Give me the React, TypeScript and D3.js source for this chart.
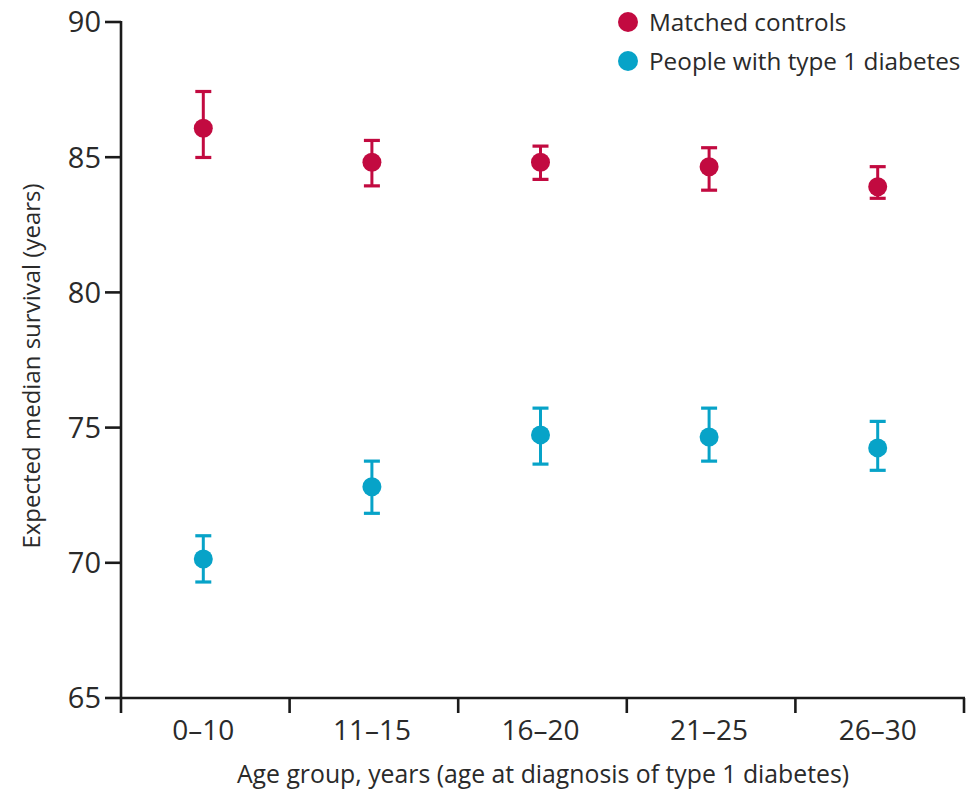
import React from "react";
import * as d3 from "d3";

const categories = ["0–10", "11–15", "16–20", "21–25", "26–30"];
const controlsMedian = [86.07, 84.81, 84.81, 84.65, 83.91];
const controlsLow = [84.99, 83.94, 84.18, 83.78, 83.48];
const controlsHigh = [87.43, 85.62, 85.41, 85.35, 84.65];
const diabetesMedian = [70.14, 72.81, 74.73, 74.65, 74.25];
const diabetesLow = [69.29, 71.83, 73.65, 73.76, 73.42];
const diabetesHigh = [71.0, 73.76, 75.72, 75.72, 75.23];
const yTicks = [65, 70, 75, 80, 85, 90];
const seriesNames = ["Matched controls", "People with type 1 diabetes"];

const RED = "#c20a40";
const BLUE = "#07a3c8";
const AXIS = "#1a1a1a";
const FONT = "'Open Sans', Lato, sans-serif";
const TXT = "#2a2a2a";

export default function App() {
  const W = 967;
  const H = 792;
  const x0 = 121;
  const x1 = 964;
  const yTop = 22;
  const yBot = 698;

  const x = d3.scaleBand<string>().domain(categories).range([x0, x1]).paddingInner(0).paddingOuter(0);
  const y = d3.scaleLinear().domain([65, 90]).range([yBot, yTop]);
  const cx = (c: string) => (x(c) as number) + x.bandwidth() / 2 - 2;

  const series = [
    { name: seriesNames[0], color: RED, mid: controlsMedian, lo: controlsLow, hi: controlsHigh },
    { name: seriesNames[1], color: BLUE, mid: diabetesMedian, lo: diabetesLow, hi: diabetesHigh },
  ];

  const boundaries = categories.map((c) => x(c) as number).concat([x1]);

  return (
    <svg
      width={W}
      height={H}
      style={{ position: "absolute", left: 0, top: 0, background: "#fff" }}
      fontFamily={FONT}
    >
      {/* y axis */}
      <line x1={x0} x2={x0} y1={yTop - 1} y2={yBot + 1} stroke={AXIS} strokeWidth={2.6} />
      {yTicks.map((t) => (
        <g key={t}>
          <line x1={x0 - 16} x2={x0} y1={y(t)} y2={y(t)} stroke={AXIS} strokeWidth={2.6} />
          <text x={x0 - 20} y={y(t)} dy="0.36em" textAnchor="end" fontSize={29} fill={TXT}>
            {t}
          </text>
        </g>
      ))}
      {/* x axis */}
      <line x1={x0 - 1} x2={x1 + 1} y1={yBot} y2={yBot} stroke={AXIS} strokeWidth={2.6} />
      {boundaries.map((b, i) => (
        <line key={i} x1={b} x2={b} y1={yBot} y2={yBot + 15} stroke={AXIS} strokeWidth={2.6} />
      ))}
      {categories.map((c) => (
        <text key={c} x={cx(c)} y={yBot + 42} textAnchor="middle" fontSize={28} fill={TXT}>
          {c}
        </text>
      ))}
      <text x={543} y={783} textAnchor="middle" fontSize={24.8} fill={TXT}>
        Age group, years (age at diagnosis of type 1 diabetes)
      </text>
      <text
        transform={`translate(40, ${366}) rotate(-90)`}
        textAnchor="middle"
        fontSize={24}
        fill={TXT}
      >
        Expected median survival (years)
      </text>

      {/* data */}
      {series.map((s) => (
        <g key={s.name}>
          {categories.map((c, i) => {
            const px = cx(c);
            return (
              <g key={c}>
                <line x1={px} x2={px} y1={y(s.hi[i])} y2={y(s.lo[i])} stroke={s.color} strokeWidth={3} />
                <line x1={px - 8} x2={px + 8} y1={y(s.hi[i])} y2={y(s.hi[i])} stroke={s.color} strokeWidth={3.2} />
                <line x1={px - 8} x2={px + 8} y1={y(s.lo[i])} y2={y(s.lo[i])} stroke={s.color} strokeWidth={3.2} />
                <circle cx={px} cy={y(s.mid[i])} r={9.5} fill={s.color} />
              </g>
            );
          })}
        </g>
      ))}

      {/* legend */}
      {series.map((s, i) => (
        <g key={s.name} transform={`translate(628, ${22 + i * 39})`}>
          <circle cx={0} cy={0} r={10} fill={s.color} />
          <text x={21} y={0} dy="0.36em" fontSize={24.3} fill={TXT}>
            {s.name}
          </text>
        </g>
      ))}
    </svg>
  );
}
